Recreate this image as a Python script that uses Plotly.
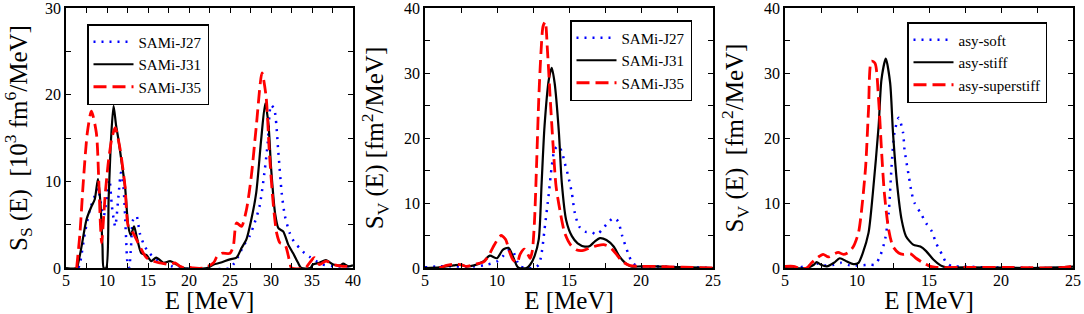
import plotly.graph_objects as go

# ---------------- Panel 1: S_S(E), SAMi-J family ----------------
p1_j27_E = [6.5, 6.7, 7.3, 7.9, 8.5, 8.9, 9.3, 9.6, 10.0, 10.3, 10.6, 11.0, 11.4, 11.7, 12.0, 12.3, 12.5, 12.7, 12.9, 13.2, 13.6, 14.0, 14.6, 15.2, 16.0, 16.9, 17.9, 18.5, 25.0, 25.4, 26.0, 26.6, 27.4, 28.0, 28.6, 29.2, 29.6, 30.0, 30.4, 30.9, 31.3, 31.7, 32.3, 32.9, 33.5, 34.1, 34.7, 35.5, 36.3, 37.6, 40.0]
p1_j27_S = [0, 0.5, 4.0, 6.7, 8.3, 9.2, 7.1, 6.0, 8.3, 10.2, 7.1, 4.8, 8.3, 11.0, 9.4, 4.0, 0.6, 0, 2.0, 5.6, 6.0, 4.0, 2.5, 1.7, 1.0, 0.6, 0.2, 0, 0, 0.4, 1.3, 2.5, 3.7, 5.2, 7.1, 11.0, 14.4, 18.8, 18.3, 13.3, 8.7, 6.0, 4.0, 2.9, 2.3, 1.7, 1.3, 0.8, 0.4, 0.2, 0.2]

p1_j31_E = [5.0, 6.3, 6.5, 6.9, 7.5, 8.1, 8.5, 8.9, 9.2, 9.45, 9.6, 9.9, 10.2, 10.5, 10.8, 11.1, 11.4, 11.8, 12.2, 12.6, 12.9, 13.3, 13.6, 14.2, 14.8, 15.4, 16.0, 16.9, 17.7, 18.5, 19.3, 22.2, 23.0, 23.8, 25.0, 25.8, 26.4, 27.0, 27.6, 28.2, 28.8, 29.3, 29.7, 30.0, 30.5, 30.9, 31.5, 32.1, 32.7, 33.3, 33.7, 34.8, 35.1, 35.9, 36.7, 37.6, 38.4, 38.8, 39.4, 40.0]
p1_j31_S = [0, 0, 0.6, 2.5, 5.6, 7.1, 7.9, 10.3, 7.5, 2.5, 0, 0, 8.0, 15.0, 18.7, 16.5, 14.8, 12.1, 9.4, 4.8, 3.8, 4.8, 3.7, 1.7, 1.5, 0.8, 1.2, 0.6, 0.8, 0.4, 0, 0, 0.4, 0.6, 1.0, 1.2, 2.3, 3.3, 5.6, 8.7, 14.8, 19.0, 16.5, 11.7, 6.3, 4.6, 4.2, 2.7, 1.7, 0.6, 0, 0, 0.4, 0.6, 0.9, 0.4, 0.3, 0.5, 0.2, 0.3]

p1_j35_E = [6.3, 6.7, 7.1, 7.6, 8.1, 8.7, 9.0, 9.2, 9.35, 9.6, 9.8, 10.2, 10.6, 11.0, 11.6, 12.2, 12.6, 13.2, 14.0, 14.8, 15.6, 16.4, 17.7, 18.3, 18.9, 19.5, 20.0, 20.5, 21.8, 23.0, 23.4, 24.0, 25.0, 25.4, 25.8, 26.4, 27.0, 27.6, 28.2, 28.9, 29.4, 29.8, 30.3, 30.7, 31.1, 31.7, 32.3, 32.5, 34.2, 34.7, 35.3, 35.9, 36.7, 37.6, 38.8, 40.0]
p1_j35_S = [0, 4.0, 9.8, 15.6, 18.1, 15.6, 10.0, 5.0, 2.9, 6.0, 8.7, 12.5, 15.0, 16.2, 13.7, 9.4, 4.8, 4.0, 2.5, 1.2, 0.8, 0.6, 0.4, 0.6, 0.2, 0, 0.1, 0, 0, 0.6, 1.3, 1.7, 1.7, 2.5, 5.2, 4.8, 6.7, 10.6, 16.3, 22.5, 19.8, 13.3, 7.1, 4.0, 2.9, 2.7, 0.6, 0, 0, 0.6, 1.2, 0.4, 0.8, 0.4, 0.2, 0.2]

# ---------------- Panel 2: S_V(E), SAMi-J family ----------------
p2_j27_E = [5.0, 6.0, 7.0, 8.4, 9.3, 10.0, 10.4, 10.85, 11.1, 11.4, 11.6, 12.05, 12.6, 12.9, 13.1, 13.3, 13.6, 13.8, 14.0, 14.25, 14.5, 14.7, 14.95, 15.2, 15.4, 15.7, 16.1, 16.6, 16.9, 17.3, 17.6, 18.1, 18.4, 18.7, 19.1, 19.4, 19.8, 21.0, 22.5, 25.0]
p2_j27_S = [0.1, 0.25, 0.25, 0.25, 0.5, 1.0, 1.8, 2.8, 2.6, 1.0, 0.25, 0, 0, 0.5, 2.3, 5.9, 11.5, 15.6, 18.2, 18.8, 17.9, 16.2, 14.1, 11.5, 8.5, 6.4, 5.6, 5.5, 5.1, 5.9, 6.7, 7.7, 7.2, 4.9, 2.3, 0.8, 0.25, 0.25, 0.15, 0]

p2_j31_E = [5.0, 6.0, 7.0, 7.4, 7.9, 8.4, 9.05, 9.5, 10.0, 10.4, 10.8, 11.1, 11.4, 11.55, 12.05, 12.3, 12.6, 12.9, 13.1, 13.3, 13.6, 13.8, 14.0, 14.3, 14.5, 14.8, 15.2, 15.6, 16.1, 16.45, 16.8, 17.15, 17.6, 18.1, 18.5, 18.9, 19.3, 20.0, 21.0, 22.0, 23.5, 25.0]
p2_j31_S = [0, 0.1, 0.4, 0.5, 0.25, 0.4, 1.0, 1.9, 1.5, 2.8, 3.1, 1.8, 0.25, 0, 0, 0.5, 1.8, 4.4, 13.1, 21.8, 29.0, 30.8, 28.5, 20.8, 13.1, 7.4, 4.9, 3.8, 3.3, 3.4, 4.1, 4.6, 4.3, 3.3, 1.8, 0.8, 0.25, 0.25, 0.25, 0.15, 0.1, 0]

p2_j35_E = [6.0, 6.5, 7.0, 7.5, 7.9, 8.5, 9.05, 9.4, 9.75, 10.1, 10.3, 10.6, 10.85, 11.1, 11.4, 11.6, 11.9, 12.1, 12.3, 12.45, 12.6, 12.75, 12.9, 13.05, 13.2, 13.35, 13.5, 13.7, 13.9, 14.1, 14.4, 14.7, 15.1, 15.5, 16.0, 16.45, 16.9, 17.4, 17.85, 18.3, 18.7, 19.2, 19.9, 21.0, 22.2, 23.6, 25.0]
p2_j35_S = [0, 0.4, 0.6, 0.5, 0.25, 0.6, 0.9, 1.8, 3.3, 4.6, 5.0, 4.4, 2.6, 1.3, 0.8, 2.1, 2.9, 2.3, 1.5, 2.6, 7.0, 16.0, 26.0, 33.0, 37.2, 37.9, 33.6, 25.9, 18.7, 12.6, 8.5, 5.4, 3.6, 2.8, 2.7, 3.1, 3.4, 3.6, 3.2, 2.1, 1.0, 0.4, 0.25, 0.25, 0.15, 0.1, 0]

# ---------------- Panel 3: S_V(E), asy-EoS family ----------------
p3_soft_E = [5.0, 6.0, 6.7, 7.2, 7.7, 8.4, 8.9, 9.5, 10.2, 10.9, 11.25, 11.6, 11.95, 12.2, 12.4, 12.6, 12.9, 13.2, 13.3, 13.6, 13.8, 14.0, 14.4, 14.8, 15.2, 15.5, 15.9, 16.2, 16.6, 17.3, 19.0, 21.0, 23.0, 25.0]
p3_soft_S = [0, 0.1, 0.4, 0.7, 0.4, 0.5, 0.8, 0.4, 0.4, 0.5, 0.5, 1.8, 4.4, 8.5, 15.6, 20.8, 23.1, 20.8, 18.2, 14.1, 11.5, 10.0, 8.5, 6.9, 5.6, 3.8, 2.1, 0.8, 0.25, 0.25, 0.1, 0.05, 0, 0.05]

p3_stiff_E = [5.0, 6.5, 7.0, 7.2, 7.5, 7.9, 8.4, 8.8, 9.3, 9.75, 10.1, 10.4, 10.8, 11.1, 11.5, 11.7, 12.0, 12.3, 12.5, 12.8, 13.1, 13.4, 13.9, 14.4, 14.8, 15.3, 15.8, 16.2, 18.0, 20.0, 22.0, 24.0, 25.0]
p3_stiff_S = [0, 0, 0.5, 0.9, 0.5, 0.25, 0.8, 1.5, 1.0, 0.6, 0.8, 2.3, 5.4, 11.5, 21.8, 29.0, 32.2, 28.5, 20.8, 12.6, 7.4, 4.9, 3.6, 3.3, 2.6, 1.3, 0.4, 0.1, 0.1, 0.05, 0, 0.1, 0.2]

p3_super_E = [5.0, 5.6, 6.0, 6.5, 6.85, 7.2, 7.65, 8.0, 8.35, 8.7, 9.05, 9.4, 9.75, 10.1, 10.3, 10.6, 10.8, 11.0, 11.25, 11.5, 11.7, 11.9, 12.2, 12.5, 12.9, 13.2, 13.7, 14.1, 14.6, 15.1, 15.5, 18.0, 20.0, 22.0, 23.5, 24.3, 25.0]
p3_super_S = [0.25, 0.25, 0, 0, 0.8, 1.5, 2.1, 1.7, 2.1, 2.4, 2.1, 2.4, 3.3, 5.4, 8.5, 15.6, 24.4, 31.8, 31.5, 25.9, 18.2, 11.5, 5.9, 3.3, 2.3, 2.1, 2.2, 1.5, 0.8, 0.25, 0.1, 0.1, 0.1, 0.05, 0, 0.1, 0.3]

names_sami = ["SAMi-J27", "SAMi-J31", "SAMi-J35"]
names_asy = ["asy-soft", "asy-stiff", "asy-superstiff"]

x_ranges = [[5, 40], [5, 25], [5, 25]]
y_ranges = [[0, 30], [0, 40], [0, 40]]
y_titles = [
    "S<sub>S</sub> (E)  [10<sup>3</sup> fm<sup>6</sup>/MeV]",
    "S<sub>V</sub> (E) [fm<sup>2</sup>/MeV]",
    "S<sub>V</sub> (E)  [fm<sup>2</sup>/MeV]",
]
x_title = "E [MeV]"

FONT = "Liberation Serif, Times New Roman, serif"
W, H = 1084, 314
STYLES = [
    dict(color="#0000ff", width=2.5, dash="2px,6px"),
    dict(color="#000000", width=2.2, dash="solid"),
    dict(color="#ff0000", width=2.8, dash="13px,6px"),
]

panels = [
    ([(p1_j27_E, p1_j27_S), (p1_j31_E, p1_j31_S), (p1_j35_E, p1_j35_S)], names_sami),
    ([(p2_j27_E, p2_j27_S), (p2_j31_E, p2_j31_S), (p2_j35_E, p2_j35_S)], names_sami),
    ([(p3_soft_E, p3_soft_S), (p3_stiff_E, p3_stiff_S), (p3_super_E, p3_super_S)], names_asy),
]

# plot-area pixel boxes
px_left = [66, 425, 785]
px_right = [353, 713, 1073]
px_top, px_bottom = 8, 268
legend_pos = [(87, 24), (570, 20), (907, 22)]

fig = go.Figure()
layout = dict(
    width=W, height=H,
    margin=dict(l=0, r=0, t=0, b=0),
    paper_bgcolor="white", plot_bgcolor="white",
    font=dict(family=FONT, color="black"),
)

for i, (series, names) in enumerate(panels):
    k = "" if i == 0 else str(i + 1)
    for (ex, sy), nm, st in zip(series, names, STYLES):
        fig.add_trace(go.Scatter(
            x=ex, y=sy, name=nm, mode="lines",
            line=dict(color=st["color"], width=st["width"], dash=st["dash"], shape="spline", smoothing=0.7),
            xaxis="x" + k, yaxis="y" + k, legend="legend" + k,
        ))
    dom_x = [px_left[i] / W, px_right[i] / W]
    dom_y = [1 - px_bottom / H, 1 - px_top / H]
    common = dict(
        showgrid=False, zeroline=False, showline=True, linecolor="black", linewidth=1.6,
        mirror="ticks", ticks="inside", ticklen=5, tickwidth=1.2, tickcolor="black",
        tickfont=dict(family=FONT, size=16, color="black"), automargin=False,
        ticklabeloverflow="allow",
    )
    layout["xaxis" + k] = dict(
        common, domain=dom_x, range=x_ranges[i], dtick=5, tick0=0,
        anchor="y" + k, ticklabelstandoff=-3,
        minor=dict(dtick=2.5, ticks="inside", ticklen=5, tickwidth=1.2, tickcolor="black", showgrid=False),
        title=dict(text=x_title, font=dict(family=FONT, size=25, color="black"), standoff=0),
    )
    layout["yaxis" + k] = dict(
        common, domain=dom_y, range=y_ranges[i], dtick=10, tick0=0,
        anchor="x" + k,
        minor=dict(dtick=5, ticks="inside", ticklen=5, tickwidth=1.2, tickcolor="black", showgrid=False),
        title=dict(text=y_titles[i], font=dict(family=FONT, size=25, color="black"), standoff=13),
    )
    lx, ly = legend_pos[i]
    layout["legend" + k] = dict(
        x=lx / W, y=1 - ly / H, xanchor="left", yanchor="top",
        bgcolor="white", bordercolor="black", borderwidth=1.5,
        font=dict(family=FONT, size=15, color="black"),
        itemwidth=40, tracegroupgap=0,
    )

fig.update_layout(**layout)
fig.write_html("out.html", config={"displayModeBar": False},
               post_script="document.body.style.margin='0';")
